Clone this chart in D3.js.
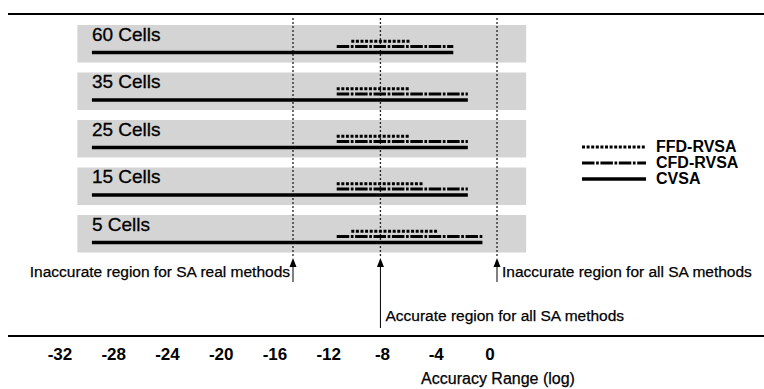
<!DOCTYPE html>
<html>
<head>
<meta charset="utf-8">
<script src="https://cdn.jsdelivr.net/npm/d3@7"></script>
<style>
  body { margin: 0; background: #fff; }
  text { font-family: "Liberation Sans", Arial, sans-serif; fill: #000; }
</style>
</head>
<body>
<div id="chart"></div>
<script>
// rows of the figure (top to bottom)
const cells = ['60 Cells', '35 Cells', '25 Cells', '15 Cells', '5 Cells'];
// accuracy ranges [from, to] per method, same order as cells
const ffdRange = [[-12, -8], [-13, -8], [-13, -8], [-13, -7], [-12, -6]];
const cfdRange = [[-13, -5], [-13, -4], [-13, -4], [-13, -4], [-13, -3]];
const cvsaRange = [[-29.8, -5], [-29.8, -4], [-29.8, -4], [-29.8, -4], [-29.8, -3]];
const bandExtent = [-30.8, 0];
// marker lines under the panels
const markers = [
  {v: -16, label: 'Inaccurate region for SA real methods', side: 'left'},
  {v: -10, label: 'Accurate region for all SA methods', side: 'below'},
  {v: -2, label: 'Inaccurate region for all SA methods', side: 'right'}
];
const tickValues = [-32, -28, -24, -20, -16, -12, -8, -4, 0];
const methods = ['FFD-RVSA', 'CFD-RVSA', 'CVSA'];

const width = 764, height = 389;
const svg = d3.select('#chart').append('svg')
  .attr('width', width)
  .attr('height', height);

// panel scale and the (separately drawn) axis scale
const x = d3.scaleLinear().domain([-16, -2]).range([293, 497]);
const xAxis = d3.scaleLinear().domain([-32, 0]).range([60, 490]);
const y = d3.scaleBand().domain(cells).range([25, 252.5]).paddingInner(0.21).paddingOuter(0);

const styles = {
  'FFD-RVSA': {dash: '3,1.6', w: 3, dy: 16.3},
  'CFD-RVSA': {dash: '12.5,1.6,2.7,1.6', w: 3, dy: 21.6},
  'CVSA': {dash: null, w: 3.5, dy: 27.4}
};

// frame lines
svg.append('line').attr('x1', 8).attr('x2', width).attr('y1', 14).attr('y2', 14)
  .attr('stroke', '#000').attr('stroke-width', 2);
svg.append('line').attr('x1', 8).attr('x2', width).attr('y1', 336).attr('y2', 336)
  .attr('stroke', '#000').attr('stroke-width', 2);

// grey bands
svg.append('g').selectAll('rect')
  .data(cells)
  .join('rect')
  .attr('x', x(bandExtent[0]))
  .attr('width', x(bandExtent[1]) - x(bandExtent[0]))
  .attr('y', d => y(d))
  .attr('height', y.bandwidth())
  .attr('fill', '#d4d4d4');

svg.append('g').selectAll('text')
  .data(cells)
  .join('text')
  .attr('x', x(cvsaRange[0][0]))
  .attr('y', d => y(d) + 16)
  .attr('font-size', 19)
  .attr('stroke', '#000').attr('stroke-width', 0.3)
  .text(d => d);

// vertical marker lines
const mk = svg.append('g');
mk.selectAll('line.dot')
  .data(markers)
  .join('line')
  .attr('class', 'dot')
  .attr('x1', d => x(d.v)).attr('x2', d => x(d.v))
  .attr('y1', 18).attr('y2', 258)
  .attr('stroke', '#222').attr('stroke-width', 1.3)
  .attr('stroke-dasharray', '2,2');

// range lines
const series = [
  {name: 'FFD-RVSA', data: ffdRange},
  {name: 'CFD-RVSA', data: cfdRange},
  {name: 'CVSA', data: cvsaRange}
];
series.forEach(s => {
  const st = styles[s.name];
  svg.append('g').selectAll('line')
    .data(s.data)
    .join('line')
    .attr('x1', d => x(d[0]))
    .attr('x2', d => x(d[1]))
    .attr('y1', (d, i) => y(cells[i]) + st.dy)
    .attr('y2', (d, i) => y(cells[i]) + st.dy)
    .attr('stroke', '#000')
    .attr('stroke-width', st.w)
    .attr('stroke-dasharray', st.dash);
});

// arrows
mk.selectAll('path.arrow')
  .data(markers)
  .join('path')
  .attr('class', 'arrow')
  .attr('d', d => `M${x(d.v)},258 l-3.5,9 l7,0 Z`)
  .attr('fill', '#000');
mk.selectAll('line.stem')
  .data(markers)
  .join('line')
  .attr('class', 'stem')
  .attr('x1', d => x(d.v)).attr('x2', d => x(d.v))
  .attr('y1', 264)
  .attr('y2', d => d.side === 'below' ? 328 : 282)
  .attr('stroke', '#000').attr('stroke-width', 1);
mk.selectAll('text')
  .data(markers)
  .join('text')
  .attr('x', d => d.side === 'left' ? x(d.v) - 3 : x(d.v) + 5)
  .attr('y', d => d.side === 'below' ? 321 : 277)
  .attr('text-anchor', d => d.side === 'left' ? 'end' : 'start')
  .attr('font-size', 15.5)
  .attr('stroke', '#000').attr('stroke-width', 0.25)
  .text(d => d.label);

// legend
const leg = svg.append('g');
methods.forEach((m, i) => {
  const st = styles[m];
  const ly = 147 + i * 16;
  leg.append('line')
    .attr('x1', 582).attr('x2', 646).attr('y1', ly).attr('y2', ly)
    .attr('stroke', '#000').attr('stroke-width', st.w)
    .attr('stroke-dasharray', st.dash);
  leg.append('text')
    .attr('x', 656).attr('y', ly + 5)
    .attr('font-size', 16).attr('font-weight', 'bold')
    .text(m);
});

// bottom axis labels
svg.append('g').selectAll('text')
  .data(tickValues)
  .join('text')
  .attr('x', d => xAxis(d))
  .attr('y', 360)
  .attr('text-anchor', 'middle')
  .attr('font-size', 17).attr('font-weight', 'bold')
  .text(d => d);

svg.append('text')
  .attr('x', 498).attr('y', 384)
  .attr('text-anchor', 'middle')
  .attr('font-size', 16)
  .attr('stroke', '#000').attr('stroke-width', 0.25)
  .text('Accuracy Range (log)');
</script>
</body>
</html>
